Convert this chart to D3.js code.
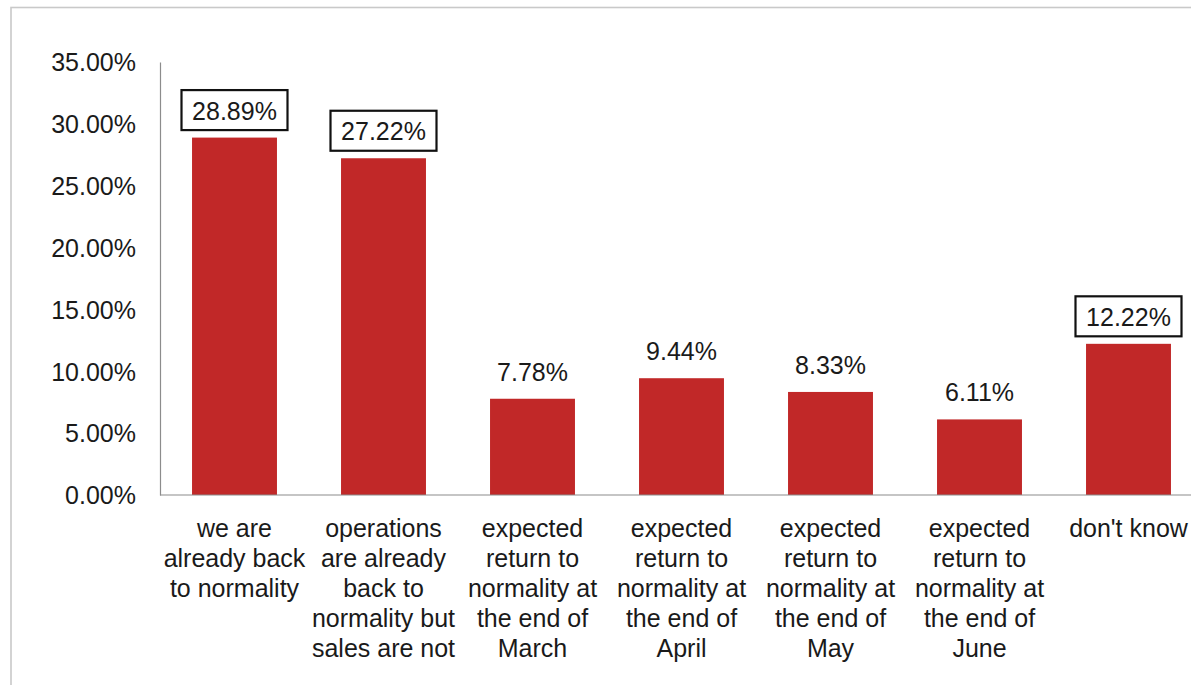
<!DOCTYPE html>
<html>
<head>
<meta charset="utf-8">
<script src="https://cdn.jsdelivr.net/npm/d3@7"></script>
<style>
  html, body { margin: 0; padding: 0; background: #fff; overflow: hidden; }
  svg { display: block; font-family: "Liberation Sans", Arial, sans-serif; }
</style>
</head>
<body>
<svg id="chart" width="1191" height="685"></svg>
<script>
const categories = [
  ["we are", "already back", "to normality"],
  ["operations", "are already", "back to", "normality but", "sales are not"],
  ["expected", "return to", "normality at", "the end of", "March"],
  ["expected", "return to", "normality at", "the end of", "April"],
  ["expected", "return to", "normality at", "the end of", "May"],
  ["expected", "return to", "normality at", "the end of", "June"],
  ["don't know"]
];
const values = [28.89, 27.22, 7.78, 9.44, 8.33, 6.11, 12.22];
const boxed = [true, true, false, false, false, false, true];
const yTicks = [0, 5, 10, 15, 20, 25, 30, 35];

(function () {
const svg = d3.select("#chart");
const mLeft = 160, mRight = 1203, mTop = 62, mBottom = 495;
const fontSize = 25;

// outer chart border
svg.append("rect")
  .attr("x", 11).attr("y", 7.5)
  .attr("width", 1200).attr("height", 700)
  .attr("fill", "none").attr("stroke", "#c9c9c9").attr("stroke-width", 1.6);

const x = d3.scaleBand().domain(d3.range(values.length)).range([mLeft, mRight]).paddingInner(0.43).paddingOuter(0.215);
const y = d3.scaleLinear().domain([0, 35]).range([mBottom, mTop]);

// y axis
const yAxis = d3.axisLeft(y).tickValues(yTicks).tickSize(0).tickPadding(24)
  .tickFormat(d => d.toFixed(2) + "%");
const gy = svg.append("g").attr("transform", `translate(${mLeft},0)`).call(yAxis);
gy.select(".domain").attr("stroke", "#8c8c8c").attr("stroke-width", 1.2);
gy.selectAll("text").attr("font-size", fontSize).attr("fill", "#1a1a1a")
  .attr("font-family", "Liberation Sans, Arial, sans-serif").attr("dy", "0.35em");

// bars
svg.append("g").selectAll("rect").data(values).join("rect")
  .attr("x", (d, i) => x(i))
  .attr("y", d => y(d))
  .attr("width", x.bandwidth())
  .attr("height", d => y(0) - y(d))
  .attr("fill", "#c12828");

// x axis baseline
svg.append("line")
  .attr("x1", mLeft).attr("x2", mRight)
  .attr("y1", y(0)).attr("y2", y(0))
  .attr("stroke", "#8c8c8c").attr("stroke-width", 1.2);

// category labels
const catG = svg.append("g");
categories.forEach((lines, i) => {
  const t = catG.append("text")
    .attr("text-anchor", "middle")
    .attr("font-size", fontSize)
    .attr("fill", "#1a1a1a");
  lines.forEach((ln, j) => {
    t.append("tspan")
      .attr("x", x(i) + x.bandwidth() / 2)
      .attr("y", 537 + j * 30)
      .text(ln);
  });
});

// data labels
const lab = svg.append("g");
values.forEach((v, i) => {
  const cx = x(i) + x.bandwidth() / 2;
  const base = y(v) - 18;
  if (boxed[i]) {
    lab.append("rect")
      .attr("x", cx - 53).attr("y", y(v) - 47.5)
      .attr("width", 106).attr("height", 40)
      .attr("fill", "#fff").attr("stroke", "#111").attr("stroke-width", 2.2);
  }
  lab.append("text")
    .attr("x", cx).attr("y", base)
    .attr("text-anchor", "middle")
    .attr("font-size", fontSize)
    .attr("fill", "#1a1a1a")
    .text(v.toFixed(2) + "%");
});
})();
</script>
</body>
</html>
